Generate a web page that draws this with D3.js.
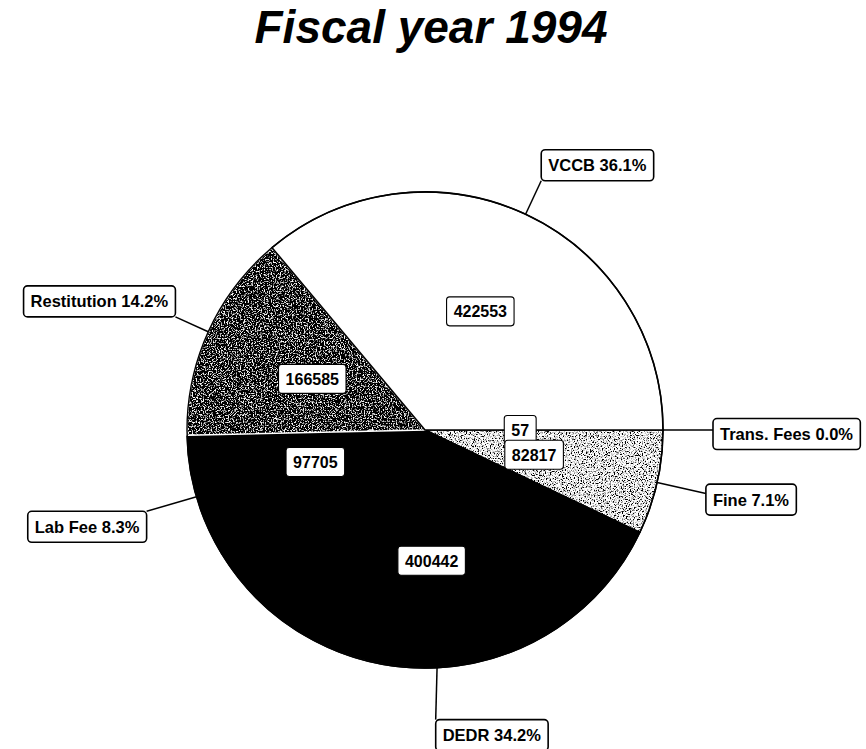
<!DOCTYPE html>
<html>
<head>
<meta charset="utf-8">
<script src="https://cdn.jsdelivr.net/npm/d3@7/dist/d3.min.js"></script>
<style>
  html, body { margin: 0; padding: 0; background: #fff; }
  svg { display: block; }
  text { font-family: "Liberation Sans", Arial, sans-serif; }
</style>
</head>
<body>
<svg id="chart" width="866" height="749"></svg>
<script>
// ---- data (clockwise from 3 o'clock) ----
const categories = ["Trans. Fees", "Fine", "DEDR", "Lab Fee", "Restitution", "VCCB"];
const values     = [57, 82817, 400442, 97705, 166585, 422553];
const percentLabels = ["0.0%", "7.1%", "34.2%", "8.3%", "14.2%", "36.1%"];
const title = "Fiscal year 1994";

// ---- styles ----
const fills = {
  "Trans. Fees": "#000",
  "Fine": "url(#texLight)",
  "DEDR": "#000",
  "Lab Fee": "#000",
  "Restitution": "url(#texDark)",
  "VCCB": "#fff"
};
const strokes = {
  "Trans. Fees": "#000", "Fine": "#000", "DEDR": "#000",
  "Lab Fee": "#000", "Restitution": "#fff", "VCCB": "#000"
};
// value label radius factor
const valueRadius = { "VCCB": 0.55, "Restitution": 0.52, "Lab Fee": 0.48, "DEDR": 0.55, "Fine": 0.47, "Trans. Fees": 0.40 };
// outer label leader radius & anchor corner
const outerCfg = {
  "VCCB":        { r: 275, anchor: "bottom-left" },
  "Restitution": { r: 274, anchor: "bottom-right" },
  "Lab Fee":     { r: 290, anchor: "top-right" },
  "DEDR":        { r: 290, anchor: "top-left", dx: -4 },
  "Fine":        { r: 288, anchor: "middle-left", dy: 6 },
  "Trans. Fees": { r: 288, anchor: "middle-left", dy: 4 }
};

const svg = d3.select("#chart");
const cx = 425, cy = 430, R = 238;

// texture defs
const defs = svg.append("defs");
function makeTexture(id, slope, intercept, freq, seed) {
  const f = defs.append("filter").attr("id", id + "F")
    .attr("filterUnits", "userSpaceOnUse")
    .attr("x", 0).attr("y", 0).attr("width", 866).attr("height", 749);
  f.append("feTurbulence").attr("type", "fractalNoise").attr("baseFrequency", freq)
    .attr("numOctaves", 2).attr("seed", seed).attr("result", "n");
  f.append("feColorMatrix").attr("in", "n").attr("type", "matrix")
    .attr("values", "1 0 0 0 0  1 0 0 0 0  1 0 0 0 0  0 0 0 0 1").attr("result", "g");
  const ct = f.append("feComponentTransfer").attr("in", "g");
  ["feFuncR", "feFuncG", "feFuncB"].forEach(fn =>
    ct.append(fn).attr("type", "linear").attr("slope", slope).attr("intercept", intercept));
  const p = defs.append("pattern").attr("id", id).attr("patternUnits", "userSpaceOnUse")
    .attr("width", 866).attr("height", 749);
  p.append("rect").attr("width", 866).attr("height", 749).attr("fill", "#888")
    .attr("filter", `url(#${id}F)`);
}
makeTexture("texDark", 5, -2.6, 0.75, 4);
makeTexture("texLight", 5, -1.7, 0.75, 9);

// title
svg.append("text")
  .attr("x", 431).attr("y", 43)
  .attr("text-anchor", "middle")
  .attr("font-size", 46).attr("font-weight", "bold").attr("font-style", "italic")
  .text(title);

const data = categories.map((c, i) => ({ cat: c, value: values[i], pct: percentLabels[i] }));
const pie = d3.pie().sort(null).value(d => d.value)
  .startAngle(Math.PI / 2).endAngle(Math.PI / 2 + 2 * Math.PI);
const arcs = pie(data);
const arc = d3.arc().innerRadius(0).outerRadius(R);

const g = svg.append("g").attr("transform", `translate(${cx},${cy})`);

g.selectAll("path.slice").data(arcs).join("path")
  .attr("class", "slice")
  .attr("d", arc)
  .attr("fill", d => fills[d.data.cat])
  .attr("stroke", d => strokes[d.data.cat])
  .attr("stroke-width", d => d.data.cat === "Trans. Fees" ? 2.5 : 1.6)
  .attr("stroke-linejoin", "round");

g.append("circle").attr("r", R).attr("fill", "none").attr("stroke", "#000").attr("stroke-width", 1.4);

const mid = d => (d.startAngle + d.endAngle) / 2;
const pt = (a, r) => [Math.sin(a) * r, -Math.cos(a) * r];

// outer labels
const outer = g.append("g");
arcs.forEach(d => {
  const cfg = outerCfg[d.data.cat];
  const a = mid(d);
  const p0 = pt(a, R);
  const p1 = pt(a, cfg.r);
  const ex = p1[0] + (cfg.dx || 0), ey = p1[1];
  outer.append("line").attr("x1", p0[0]).attr("y1", p0[1]).attr("x2", ex).attr("y2", ey)
    .attr("stroke", "#000").attr("stroke-width", 1.5);
  const lg = outer.append("g");
  const t = lg.append("text").attr("font-size", 16.5).attr("font-weight", "bold")
    .text(d.data.cat + " " + d.data.pct);
  const bb = t.node().getBBox();
  const padX = 7, h = 31, w = bb.width + 2 * padX;
  let bx, by;
  if (cfg.anchor === "bottom-left") { bx = ex; by = ey - h; }
  else if (cfg.anchor === "bottom-right") { bx = ex - w; by = ey - h; }
  else if (cfg.anchor === "top-right") { bx = ex - w; by = ey; }
  else if (cfg.anchor === "top-left") { bx = ex; by = ey; }
  else { bx = ex; by = ey - h / 2 + (cfg.dy || 0); }
  lg.insert("rect", "text").attr("x", bx).attr("y", by).attr("width", w).attr("height", h)
    .attr("rx", 4).attr("fill", "#fff").attr("stroke", "#000").attr("stroke-width", 1.6);
  t.attr("x", bx + padX).attr("y", by + h / 2 + 6);
});

// value labels
const vals = g.append("g");
arcs.forEach(d => {
  const a = mid(d);
  const p = pt(a, R * valueRadius[d.data.cat]);
  const lg = vals.append("g");
  const t = lg.append("text").attr("font-size", 16).attr("font-weight", "bold")
    .attr("text-anchor", "middle").text(d.data.value);
  const bb = t.node().getBBox();
  const w = bb.width + 14, h = 29;
  lg.insert("rect", "text").attr("x", p[0] - w / 2).attr("y", p[1] - h / 2)
    .attr("width", w).attr("height", h).attr("rx", 3)
    .attr("fill", "#fff").attr("stroke", "#000").attr("stroke-width", 1.1);
  t.attr("x", p[0]).attr("y", p[1] + 6);
});
</script>
</body>
</html>
